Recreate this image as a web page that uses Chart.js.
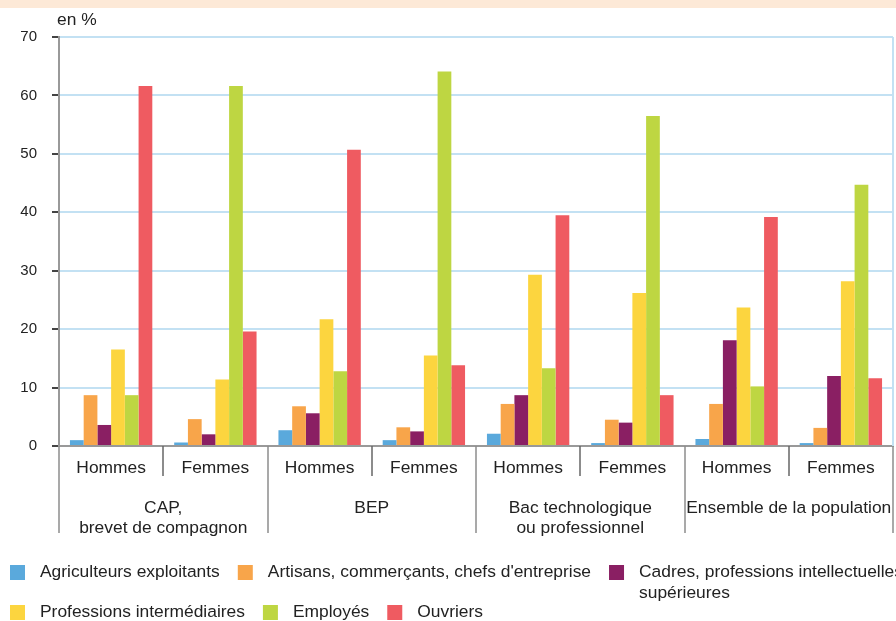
<!DOCTYPE html>
<html>
<head>
<meta charset="utf-8">
<script src="https://cdn.jsdelivr.net/npm/chart.js@4.4.0/dist/chart.umd.min.js"></script>
<style>
    html, body { margin: 0; padding: 0; background: #fff; }
    #wrap { position: relative; width: 896px; height: 621px; overflow: hidden; }
    #band { position: absolute; left: 0; top: 0; width: 896px; height: 8px; background: #fde9d7; }
</style>
</head>
<body>
<div id="wrap">
    <div id="band"></div>
    <canvas id="myChart"></canvas>
</div>
<script>
// Data (en %)
const sexLabels = ['Hommes', 'Femmes', 'Hommes', 'Femmes', 'Hommes', 'Femmes', 'Hommes', 'Femmes'];
const groupLabels = [
    ['CAP,', 'brevet de compagnon'],
    ['BEP'],
    ['Bac technologique', 'ou professionnel'],
    ['Ensemble de la population']
];
const yTicks = [0, 10, 20, 30, 40, 50, 60, 70];

const seriesNames = [
    'Agriculteurs exploitants',
    "Artisans, commerçants, chefs d'entreprise",
    'Cadres, professions intellectuelles\nsupérieures',
    'Professions intermédiaires',
    'Employés',
    'Ouvriers'
];
const seriesColors = ['#5aa9dc', '#f8a54a', '#8a1f63', '#fcd53f', '#bed642', '#ef5b61'];

const agriculteurs = [1.0, 0.6, 2.7, 1.0, 2.1, 0.5, 1.2, 0.5];
const artisans     = [8.7, 4.6, 6.8, 3.2, 7.2, 4.5, 7.2, 3.1];
const cadres       = [3.6, 2.0, 5.6, 2.5, 8.7, 4.0, 18.1, 12.0];
const profInter    = [16.5, 11.4, 21.7, 15.5, 29.3, 26.2, 23.7, 28.2];
const employes     = [8.7, 61.6, 12.8, 64.1, 13.3, 56.5, 10.2, 44.7];
const ouvriers     = [61.6, 19.6, 50.7, 13.8, 39.5, 8.7, 39.2, 11.6];

const seriesValues = [agriculteurs, artisans, cadres, profInter, employes, ouvriers];

const FONT = '"Liberation Sans", Arial, Helvetica, sans-serif';
const TEXT = '#222';
const SIZE = 17.4;

// group labels, separators, unit and legend
const extras = {
    id: 'extras',
    afterDraw(chart) {
        const { ctx, chartArea, scales: { x } } = chart;
        const step = (x.right - x.left) / sexLabels.length;
        const base = x.top;
        ctx.save();

        // vertical separators under the axis
        ctx.lineWidth = 1.5;
        for (let i = 0; i <= sexLabels.length; i++) {
            const px = Math.round(x.left + i * step);
            const isGroup = i % 2 === 0;
            ctx.strokeStyle = isGroup ? '#8c8c8c' : '#666';
            ctx.beginPath();
            ctx.moveTo(px, base);
            ctx.lineTo(px, base + (isGroup ? 87 : 30));
            ctx.stroke();
        }
        // right edge of the plot
        ctx.strokeStyle = '#c3e1f3';
        ctx.lineWidth = 2;
        ctx.beginPath();
        ctx.moveTo(chartArea.right, chartArea.top);
        ctx.lineTo(chartArea.right, chartArea.bottom);
        ctx.stroke();

        // group labels
        ctx.fillStyle = TEXT;
        ctx.font = SIZE + 'px ' + FONT;
        ctx.textAlign = 'center';
        ctx.textBaseline = 'middle';
        groupLabels.forEach((lines, g) => {
            const cx = x.left + (g * 2 + 1) * step;
            lines.forEach((t, k) => ctx.fillText(t, cx, base + 62 + k * 20));
        });

        // unit
        ctx.textAlign = 'left';
        ctx.fillText('en %', chartArea.left - 2, 20);

        // legend
        const rows = [[0, 1, 2], [3, 4, 5]];
        const rowY = [572, 612];
        rows.forEach((row, r) => {
            let lx = 10;
            row.forEach(i => {
                const cy = rowY[r];
                ctx.fillStyle = seriesColors[i];
                ctx.fillRect(lx, cy - 7, 15, 15);
                ctx.fillStyle = TEXT;
                const lines = seriesNames[i].split('\n');
                let w = 0;
                lines.forEach((t, k) => {
                    ctx.fillText(t, lx + 30, cy + k * 21);
                    w = Math.max(w, ctx.measureText(t).width);
                });
                lx += 30 + w + 18;
            });
        });
        ctx.restore();
    }
};

const grapharea = document.getElementById('myChart');
grapharea.chart = new Chart(grapharea, {
    type: 'bar',
    data: {
        labels: sexLabels,
        datasets: seriesValues.map((vals, i) => ({
            label: seriesNames[i],
            data: vals,
            backgroundColor: seriesColors[i],
            borderWidth: 0,
            categoryPercentage: 0.79,
            barPercentage: 1.0
        }))
    },
    options: {
        responsive: true,
        maintainAspectRatio: false,
        animation: false,
        layout: { padding: { top: 37, right: 3, bottom: 0, left: 0 } },
        plugins: {
            legend: { display: false },
            tooltip: { enabled: false }
        },
        scales: {
            x: {
                grid: { display: false, drawTicks: false },
                border: { display: true, color: '#999', width: 2 },
                ticks: {
                    color: TEXT,
                    font: { family: FONT, size: SIZE },
                    padding: 12,
                    maxRotation: 0,
                    autoSkip: false
                },
                afterFit(scale) { scale.height = 175; }
            },
            y: {
                min: 0,
                max: 70,
                afterBuildTicks(scale) { scale.ticks = yTicks.map(v => ({ value: v })); },
                grid: {
                    color: '#c3e1f3',
                    lineWidth: 2,
                    tickColor: '#444',
                    tickWidth: 2,
                    tickLength: 7
                },
                border: { display: true, color: '#999', width: 2 },
                ticks: {
                    color: TEXT,
                    font: { family: FONT, size: 15 },
                    padding: 15
                },
                afterFit(scale) { scale.width = 59; }
            }
        }
    },
    plugins: [extras]
});
</script>
</body>
</html>
